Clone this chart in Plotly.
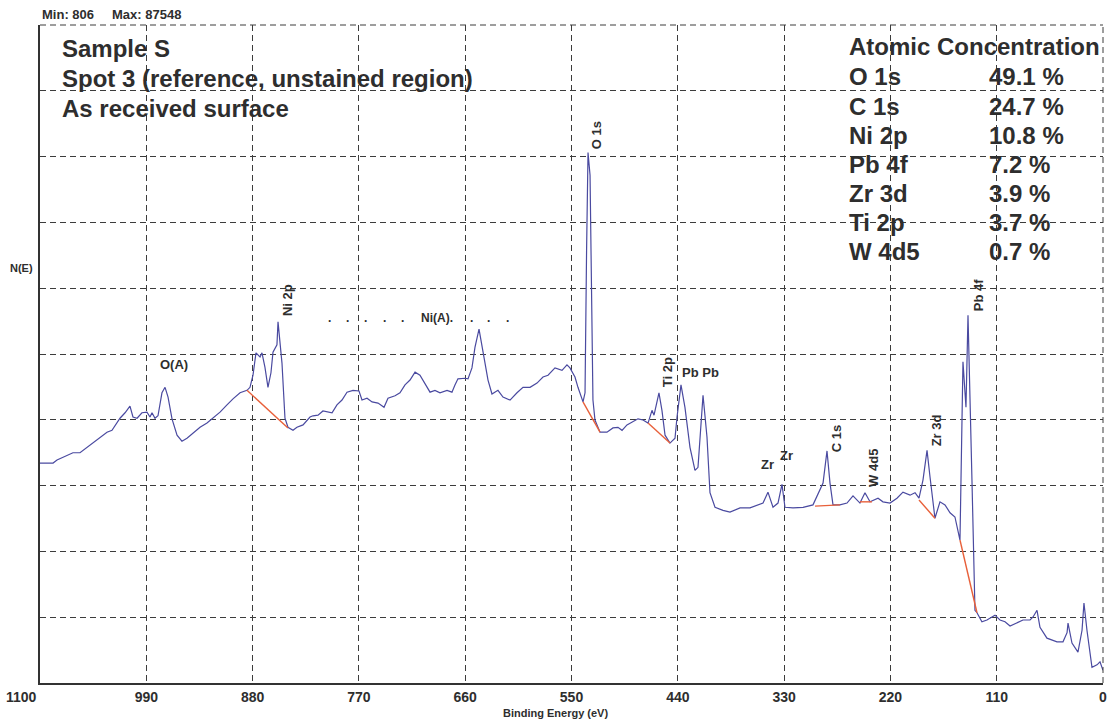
import plotly.graph_objects as go

# ---- data (binding energy in eV, N(E) in thousands of counts) ----
energy_ev = [
    1100, 1086.5, 1082.4, 1072.1, 1065.9, 1058.6, 1051.4, 1045.2, 1037.9, 1030.7,
    1025.5, 1017.2, 1012.0, 1006.9, 1003.8, 999.6, 994.5, 989.3, 986.2, 984.1,
    981.0, 977.9, 973.8, 970.6, 967.5, 963.4, 958.2, 953.1, 947.9, 941.7,
    934.4, 927.2, 921.0, 913.7, 906.5, 900.3, 893.0, 885.8, 882.7, 879.6,
    876.5, 872.3, 870.3, 867.2, 864.1, 861.0, 858.9, 854.8, 853.7, 849.6,
    846.5, 843.4, 838.2, 834.1, 827.8, 820.6, 817.5, 812.3, 807.2, 797.8,
    792.7, 787.5, 782.3, 776.1, 769.9, 766.8, 761.6, 756.4, 750.2, 744.0,
    739.9, 732.6, 727.5, 722.3, 717.1, 711.9, 706.8, 701.6, 696.4, 691.3,
    686.1, 678.8, 673.7, 670.6, 667.5, 660.2, 657.1, 653.0, 649.9, 645.7,
    641.6, 636.4, 632.3, 626.1, 620.9, 613.6, 606.4, 600.2, 592.9, 585.7,
    579.5, 574.3, 567.1, 559.8, 554.7, 551.6, 546.4, 543.3, 538.1, 536.0,
    534.4, 532.9, 530.8, 528.8, 527.8, 525.7, 520.5, 513.3, 507.1, 501.9,
    497.7, 492.6, 486.4, 481.2, 476.0, 470.8, 466.7, 464.6, 459.5, 456.4,
    453.2, 448.1, 442.9, 440.8, 436.7, 432.6, 427.4, 422.2, 419.1, 413.9,
    409.8, 406.7, 401.5, 393.2, 386.0, 375.6, 365.3, 358.0, 351.8, 346.7,
    341.5, 336.3, 332.2, 329.1, 320.8, 310.4, 300.1, 289.7, 285.6, 282.5,
    279.4, 272.2, 264.9, 258.7, 251.5, 246.3, 241.1, 232.8, 227.7, 220.4,
    213.2, 207.0, 199.7, 194.5, 190.4, 186.3, 182.1, 179.0, 173.9, 168.7,
    163.5, 158.3, 153.2, 148.0, 144.9, 141.8, 139.7, 135.6, 132.5, 130.4,
    125.3, 120.1, 114.9, 111.8, 106.6, 101.4, 96.2, 89.0, 82.8, 75.5,
    72.4, 68.3, 65.2, 58.0, 47.6, 41.4, 37.2, 36.2, 32.1, 25.9,
    21.7, 19.7, 16.6, 11.4, 6.2, 3.1, 0,
]
intensity_kcounts = [
    36.3, 36.3, 36.8, 37.5, 38.0, 38.0, 38.9, 39.6, 40.6, 41.4,
    41.7, 43.7, 44.6, 45.7, 43.9, 43.7, 44.6, 44.7, 43.9, 44.6,
    43.7, 44.1, 47.9, 48.8, 47.2, 43.6, 40.9, 39.9, 40.4, 41.3,
    42.2, 42.9, 43.7, 44.7, 45.9, 46.9, 47.9, 48.3, 48.8, 50.8,
    54.5, 53.8, 54.5, 52.1, 48.8, 51.2, 54.6, 55.8, 59.6, 52.8,
    43.7, 42.2, 41.7, 42.2, 42.6, 43.9, 44.1, 44.2, 44.9, 44.6,
    45.9, 46.7, 48.0, 48.3, 48.2, 46.7, 47.0, 46.4, 46.2, 45.5,
    47.0, 47.4, 47.9, 49.2, 50.0, 51.3, 50.8, 49.5, 48.0, 48.3,
    47.9, 48.3, 48.0, 49.2, 50.2, 50.3, 50.2, 52.0, 55.4, 58.4,
    54.9, 50.0, 47.7, 48.3, 47.2, 46.7, 47.9, 48.8, 48.8, 49.5,
    50.5, 50.8, 52.0, 51.6, 52.5, 52.0, 50.5, 48.8, 46.4, 47.9,
    71.4, 87.548, 83.8, 58.2, 46.7, 43.4, 41.4, 41.4, 42.1, 42.2,
    41.7, 42.6, 43.1, 43.6, 43.4, 42.9, 45.0, 44.2, 47.9, 45.0,
    40.9, 39.6, 40.4, 43.9, 49.2, 45.5, 38.9, 35.1, 35.6, 47.5,
    40.6, 31.4, 29.0, 28.5, 28.2, 28.9, 28.9, 29.4, 29.7, 31.5,
    29.0, 29.7, 32.8, 29.0, 28.9, 29.0, 29.4, 33.0, 38.3, 33.0,
    29.4, 29.4, 29.7, 30.9, 29.7, 31.4, 29.9, 30.5, 29.9, 29.7,
    30.5, 31.5, 31.0, 31.4, 30.5, 33.5, 38.4, 34.0, 27.2, 29.9,
    29.4, 28.1, 27.4, 23.6, 53.0, 45.5, 60.7, 33.5, 12.0, 11.6,
    10.1, 10.4, 10.9, 11.2, 10.4, 10.1, 9.4, 9.9, 10.4, 10.4,
    10.9, 12.0, 9.2, 7.4, 6.8, 6.8, 8.3, 9.9, 6.6, 5.1,
    8.7, 13.2, 8.7, 2.6, 3.0, 3.5, 2.1,
]

# background (peak-area baseline) segments: start / end energy and level
bg_start_ev = [885.8, 538.1, 470.8, 298.0, 251.5, 190.4, 148.0]
bg_start_k = [48.3, 46.4, 42.9, 29.2, 29.9, 30.2, 23.6]
bg_end_ev = [843.4, 520.5, 448.1, 272.2, 239.1, 173.9, 130.4]
bg_end_k = [42.1, 41.4, 39.6, 29.4, 29.9, 27.2, 11.6]

# peak labels: text, energy, level, rotated?
peak_labels = ["Ni 2p", "O 1s", "Ti 2p", "Pb Pb", "Zr", "Zr", "C 1s", "W 4d5", "Zr 3d", "Pb 4f", "O(A)"]
peak_label_ev = [844.4, 524.7, 451.2, 416.0, 347.7, 328.0, 276.3, 237.0, 172.8, 129.4, 961.3]
peak_label_k = [63.2, 90.4, 51.3, 51.2, 36.1, 37.5, 40.4, 35.5, 41.7, 64.0, 52.5]
peak_label_rot = [True, True, True, False, False, False, True, True, True, True, False]

auger_dot_ev = [800.9, 781.3, 762.7, 743.0, 724.4, 654.0, 636.4, 616.7]
auger_label_ev = 689.2
auger_level_k = 60.2

elements = ["O 1s", "C 1s", "Ni 2p", "Pb 4f", "Zr 3d", "Ti 2p", "W 4d5"]
atomic_pct = [49.1, 24.7, 10.8, 7.2, 3.9, 3.7, 0.7]

header_lines = ["Sample S", "Spot 3 (reference, unstained region)", "As received surface"]
x_ticks = [1100, 990, 880, 770, 660, 550, 440, 330, 220, 110, 0]

# ---- figure ----
TXT = "#2e2e2e"
FONT = "Liberation Sans, Arial, sans-serif"
NARROW = "Liberation Sans Narrow, Arial Narrow, Liberation Sans, Arial, sans-serif"
GRID = "#3c3c3c"
Y_STEP = 10.86
Y_MAX = Y_STEP * 10

fig = go.Figure()
fig.add_trace(go.Scatter(
    x=energy_ev, y=intensity_kcounts, mode="lines",
    line=dict(color="#4a4aa0", width=1.2), showlegend=False, hoverinfo="x+y",
))

bx, by = [], []
for s_e, s_k, e_e, e_k in zip(bg_start_ev, bg_start_k, bg_end_ev, bg_end_k):
    bx += [s_e, e_e, None]
    by += [s_k, e_k, None]
fig.add_trace(go.Scatter(
    x=bx, y=by, mode="lines", line=dict(color="#e8603a", width=1.4),
    showlegend=False, hoverinfo="skip",
))

ann = []
for t, e, k, rot in zip(peak_labels, peak_label_ev, peak_label_k, peak_label_rot):
    ann.append(dict(x=e, y=k, xref="x", yref="y", text=t, showarrow=False,
                    textangle=-90 if rot else 0,
                    font=dict(family=FONT, size=13, color=TXT, weight="bold")))
for e in auger_dot_ev:
    ann.append(dict(x=e, y=auger_level_k, xref="x", yref="y", text=".", showarrow=False,
                    font=dict(family=FONT, size=12, color=TXT, weight="bold")))
ann.append(dict(x=auger_label_ev, y=auger_level_k, xref="x", yref="y", text="Ni(A).",
                showarrow=False, font=dict(family=FONT, size=12, color=TXT, weight="bold")))

# header text block
for i, line in enumerate(header_lines):
    ann.append(dict(x=0.0188, y=0.965 - i * 0.0462, xref="paper", yref="paper",
                    xanchor="left", yanchor="middle", text=line, showarrow=False,
                    font=dict(family=FONT, size=24, color=TXT, weight="bold")))

# atomic concentration table
ann.append(dict(x=0.759, y=0.967, xref="paper", yref="paper", xanchor="left",
                yanchor="middle", text="Atomic Concentration", showarrow=False,
                font=dict(family=FONT, size=24, color=TXT, weight="bold")))
for i, (el, pct) in enumerate(zip(elements, atomic_pct)):
    yy = 0.921 - i * 0.0443
    ann.append(dict(x=0.759, y=yy, xref="paper", yref="paper", xanchor="left",
                    yanchor="middle", text=el, showarrow=False,
                    font=dict(family=FONT, size=24, color=TXT, weight="bold")))
    ann.append(dict(x=0.891, y=yy, xref="paper", yref="paper", xanchor="left",
                    yanchor="middle", text=f"{pct:.1f} %", showarrow=False,
                    font=dict(family=FONT, size=24, color=TXT, weight="bold")))

# min / max, axis labels
ann.append(dict(x=0.0, y=1.016, xref="paper", yref="paper", xanchor="left", yanchor="middle",
                text="Min: 806", showarrow=False,
                font=dict(family=FONT, size=13, color=TXT, weight="bold")))
ann.append(dict(x=0.066, y=1.016, xref="paper", yref="paper", xanchor="left", yanchor="middle",
                text="Max: 87548", showarrow=False,
                font=dict(family=FONT, size=13, color=TXT, weight="bold")))
ann.append(dict(x=-0.017, y=0.631, xref="paper", yref="paper", xanchor="center", yanchor="middle",
                text="N(E)", showarrow=False,
                font=dict(family=NARROW, size=11, color=TXT, weight="bold")))
ann.append(dict(x=0.485, y=-0.046, xref="paper", yref="paper", xanchor="center", yanchor="middle",
                text="Binding Energy (eV)", showarrow=False,
                font=dict(family=NARROW, size=11, color=TXT, weight="bold")))
# end tick labels are placed by hand as in the reference (first one sits left of the axis)
ann.append(dict(x=-0.017, y=-0.021, xref="paper", yref="paper", xanchor="center", yanchor="middle",
                text=str(x_ticks[0]), showarrow=False,
                font=dict(family=NARROW, size=14, color=TXT, weight="bold")))
ann.append(dict(x=1.0, y=-0.021, xref="paper", yref="paper", xanchor="center", yanchor="middle",
                text=str(x_ticks[-1]), showarrow=False,
                font=dict(family=NARROW, size=14, color=TXT, weight="bold")))

shapes = [
    dict(type="line", xref="paper", yref="paper", x0=0, x1=1, y0=1, y1=1,
         line=dict(color=GRID, width=1, dash="6px,4px")),
    dict(type="line", xref="paper", yref="paper", x0=1, x1=1, y0=0, y1=1,
         line=dict(color=GRID, width=1, dash="6px,4px")),
]

fig.update_layout(
    width=1107, height=721,
    margin=dict(l=40, r=4, t=25, b=38),
    paper_bgcolor="white", plot_bgcolor="white",
    annotations=ann, shapes=shapes,
    xaxis=dict(range=[1100, 0], tickvals=x_ticks,
               ticktext=[""] + [str(v) for v in x_ticks[1:-1]] + [""],
               showgrid=True, gridcolor=GRID, griddash="6px,4px", gridwidth=1,
               showline=True, linecolor="#333", linewidth=1.5, zeroline=False,
               ticks="", tickfont=dict(family=NARROW, size=14, color=TXT, weight="bold")),
    yaxis=dict(range=[0, Y_MAX], dtick=Y_STEP, tick0=0, showticklabels=False,
               showgrid=True, gridcolor=GRID, griddash="6px,4px", gridwidth=1,
               showline=True, linecolor="#333", linewidth=1.5, zeroline=False, ticks=""),
)

fig.write_html("out.html", config={"displayModeBar": False},
               post_script="document.body.style.margin='0';document.body.style.overflow='hidden';")
